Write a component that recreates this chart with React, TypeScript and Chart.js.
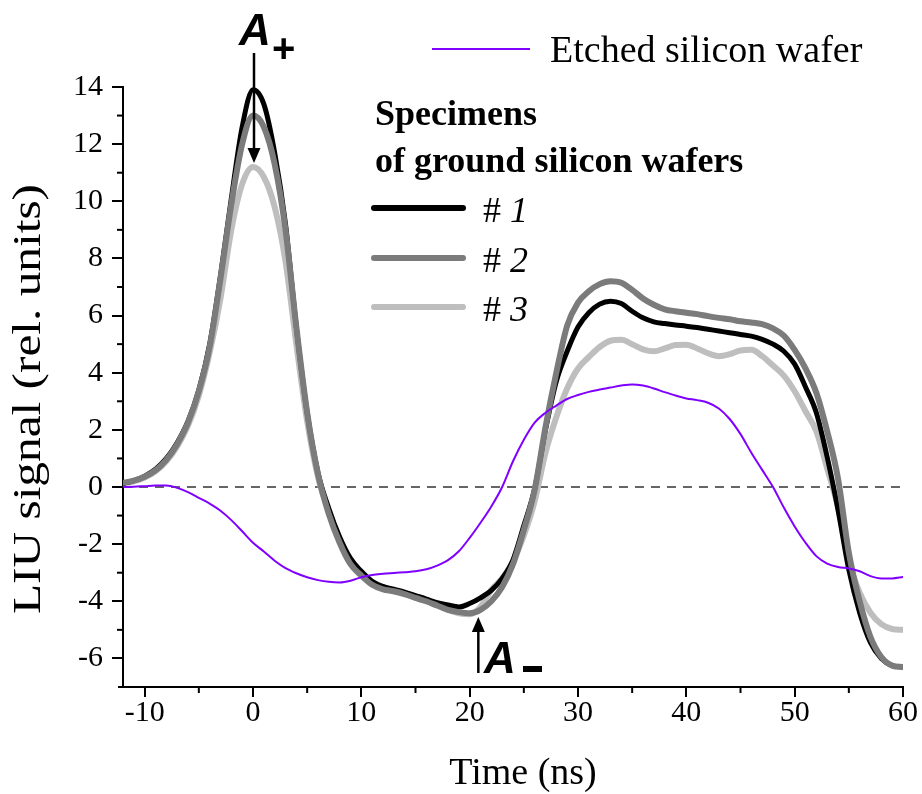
import React, { useEffect, useRef } from 'react';
import { Chart, registerables } from 'chart.js';

Chart.register(...registerables);

// ---- data (time in ns, signal in rel. units) ----
const TIME = [
  -12, -11, -10, -9, -8, -7, -6, -5, -4, -3, -2, -1, 0, 1, 2, 3, 4, 5, 6, 7, 8, 9,
  10, 11, 12, 13, 14, 15, 16, 17, 18, 19, 20, 21, 22, 23, 24, 25, 26, 27, 28, 29,
  30, 31, 32, 33, 34, 35, 36, 37, 38, 39, 40, 41, 42, 43, 44, 45, 46, 47, 48, 49,
  50, 51, 52, 53, 54, 55, 56, 57, 58, 59, 60,
];

const SPECIMEN_1 = [
  0.12, 0.22, 0.38, 0.62, 1.0, 1.55, 2.3, 3.4, 5.0, 7.4, 10.1, 12.6, 13.9, 13.4, 11.7, 9.2, 5.6, 2.6, 0.5, -0.75, -1.75, -2.5,
  -2.95, -3.3, -3.48, -3.58, -3.68, -3.8, -3.92, -4.05, -4.13, -4.2, -4.08, -3.88, -3.62, -3.2, -2.55, -1.35, -0.05, 2.0, 3.7, 4.75,
  5.6, 6.1, 6.4, 6.5, 6.42, 6.15, 5.92, 5.78, 5.72, 5.67, 5.63, 5.58, 5.52, 5.46, 5.4, 5.34, 5.28, 5.17, 5.0, 4.75,
  4.3, 3.5, 2.6, 1.05, -0.8, -2.9, -4.4, -5.45, -6.0, -6.25, -6.3,
];

const SPECIMEN_2 = [
  0.15, 0.22, 0.36, 0.58, 0.95, 1.5, 2.25, 3.35, 4.9, 7.3, 9.9, 12.0, 13.0, 12.6, 11.3, 9.0, 5.6, 2.6, 0.45, -0.95, -1.95, -2.7,
  -3.1, -3.42, -3.58, -3.65, -3.75, -3.88, -4.0, -4.15, -4.3, -4.38, -4.42, -4.3, -4.0, -3.5, -2.7, -1.5, -0.1, 2.1, 4.0, 5.65,
  6.45, 6.85, 7.1, 7.2, 7.15, 6.9, 6.6, 6.38, 6.22, 6.15, 6.1, 6.05, 5.98, 5.92, 5.87, 5.8, 5.76, 5.7, 5.55, 5.3,
  4.8, 4.15, 3.3, 1.95, 0.3, -2.3, -4.0, -5.25, -5.95, -6.25, -6.3,
];

const SPECIMEN_3 = [
  0.12, 0.2, 0.33, 0.55, 0.9, 1.42, 2.15, 3.2, 4.7, 6.6, 9.0, 10.6, 11.2, 10.85, 9.8, 7.9, 5.0, 2.3, 0.35, -0.85, -1.85, -2.6,
  -3.05, -3.38, -3.56, -3.65, -3.75, -3.88, -4.0, -4.15, -4.3, -4.42, -4.45, -4.2, -3.6, -3.2, -2.6, -1.7, -0.5, 1.2, 2.45, 3.45,
  4.15, 4.55, 4.9, 5.12, 5.15, 5.0, 4.82, 4.75, 4.85, 4.97, 4.98, 4.85, 4.68, 4.58, 4.65, 4.78, 4.8, 4.58, 4.25, 3.9,
  3.35, 2.65, 1.95, 0.65, -0.7, -2.6, -3.7, -4.4, -4.8, -4.97, -5.0,
];

const ETCHED = [
  0.0, 0.01, 0.03, 0.05, 0.05, -0.03, -0.18, -0.38, -0.58, -0.83, -1.16, -1.55, -1.95, -2.26, -2.58, -2.84, -3.02, -3.16, -3.26, -3.32, -3.34, -3.28,
  -3.16, -3.08, -3.04, -3.01, -2.98, -2.95, -2.88, -2.75, -2.56, -2.25, -1.78, -1.25, -0.68, 0.0, 0.9, 1.65, 2.25, 2.6, 2.85, 3.08,
  3.22, 3.33, 3.41, 3.48, 3.55, 3.59, 3.55, 3.45, 3.32, 3.2, 3.1, 3.04, 2.95, 2.75, 2.38, 1.85, 1.2, 0.6, 0.0, -0.72,
  -1.38, -1.95, -2.42, -2.68, -2.8, -2.85, -2.95, -3.12, -3.2, -3.2, -3.15,
];

const X_TICKS = [-10, 0, 10, 20, 30, 40, 50, 60];
const X_MINOR = [-5, 5, 15, 25, 35, 45, 55];
const Y_TICKS = [-6, -4, -2, 0, 2, 4, 6, 8, 10, 12, 14];
const Y_MINOR = [-5, -3, -1, 1, 3, 5, 7, 9, 11, 13];

const X_TITLE = 'Time (ns)';
const Y_TITLE = 'LIU signal (rel. units)';
const ETCHED_LABEL = 'Etched silicon wafer';
const GROUP_TITLE = ['Specimens', 'of ground silicon wafers'];
const SPECIMEN_LABELS = ['1', '2', '3'];
const PEAK_TIME = 0;
const TROUGH_TIME = 20.8;

const COLORS = ['#000000', '#7b7b7b', '#bebebe'];
const ETCHED_COLOR = '#8000ff';

const SERIF = '"Liberation Serif", "Times New Roman", serif';
const SANS = '"Liberation Sans", Arial, sans-serif';

const pts = (vals: number[]) => TIME.map((t, i) => ({ x: t, y: vals[i] }));

function arrow(ctx: CanvasRenderingContext2D, x: number, from: number, tip: number) {
  const dir = tip > from ? 1 : -1;
  const headLen = 15;
  ctx.beginPath();
  ctx.moveTo(x, from);
  ctx.lineTo(x, tip - dir * headLen + dir * 2);
  ctx.lineWidth = 2.5;
  ctx.strokeStyle = '#000';
  ctx.stroke();
  ctx.beginPath();
  ctx.moveTo(x, tip);
  ctx.lineTo(x - 6.5, tip - dir * headLen);
  ctx.lineTo(x + 6.5, tip - dir * headLen);
  ctx.closePath();
  ctx.fillStyle = '#000';
  ctx.fill();
}

const overlayPlugin = {
  id: 'overlay',
  beforeDatasetsDraw(chart: any) {
    const { ctx, chartArea, scales } = chart;
    const y0 = scales.y.getPixelForValue(0);
    ctx.save();
    ctx.setLineDash([9, 7]);
    ctx.strokeStyle = '#333';
    ctx.lineWidth = 1.6;
    ctx.beginPath();
    ctx.moveTo(chartArea.left, y0);
    ctx.lineTo(chartArea.right, y0);
    ctx.stroke();
    ctx.restore();
  },
  afterDraw(chart: any) {
    const { ctx, chartArea, scales } = chart;
    const xs = scales.x;
    const ys = scales.y;
    ctx.save();
    // minor ticks
    ctx.strokeStyle = '#000';
    ctx.lineWidth = 2;
    ctx.setLineDash([]);
    Y_MINOR.forEach((v) => {
      const p = ys.getPixelForValue(v);
      ctx.beginPath();
      ctx.moveTo(chartArea.left - 6, p);
      ctx.lineTo(chartArea.left, p);
      ctx.stroke();
    });
    X_MINOR.forEach((v) => {
      const p = xs.getPixelForValue(v);
      ctx.beginPath();
      ctx.moveTo(p, chartArea.bottom);
      ctx.lineTo(p, chartArea.bottom + 6);
      ctx.stroke();
    });
    // x axis overhang
    ctx.beginPath();
    ctx.moveTo(chartArea.left - 5, chartArea.bottom);
    ctx.lineTo(chartArea.left, chartArea.bottom);
    ctx.stroke();

    ctx.fillStyle = '#000';
    // y title (stretched along its length)
    ctx.save();
    ctx.translate(40, 399);
    ctx.rotate(-Math.PI / 2);
    ctx.font = `39px ${SERIF}`;
    const w = ctx.measureText(Y_TITLE).width;
    ctx.scale(430 / w, 1);
    ctx.textAlign = 'center';
    ctx.textBaseline = 'alphabetic';
    ctx.fillText(Y_TITLE, 0, 0);
    ctx.restore();

    // x title
    ctx.font = `38px ${SERIF}`;
    ctx.textAlign = 'center';
    ctx.textBaseline = 'alphabetic';
    ctx.fillText(X_TITLE, 523, 784);

    // legend: etched
    ctx.textAlign = 'left';
    ctx.strokeStyle = ETCHED_COLOR;
    ctx.lineWidth = 2;
    ctx.beginPath();
    ctx.moveTo(432, 49);
    ctx.lineTo(530, 49);
    ctx.stroke();
    ctx.font = `38px ${SERIF}`;
    ctx.fillText(ETCHED_LABEL, 550, 62);

    // legend: specimens
    ctx.font = `bold 36px ${SERIF}`;
    ctx.fillText(GROUP_TITLE[0], 375, 125);
    ctx.fillText(GROUP_TITLE[1], 375, 172);
    const rows = [208, 258, 307];
    SPECIMEN_LABELS.forEach((lab, i) => {
      ctx.strokeStyle = COLORS[i];
      ctx.lineWidth = 6;
      ctx.lineCap = 'round';
      ctx.beginPath();
      ctx.moveTo(374, rows[i]);
      ctx.lineTo(463, rows[i]);
      ctx.stroke();
      ctx.font = `36px ${SERIF}`;
      ctx.fillText('#', 483, rows[i] + 14);
      ctx.font = `italic 36px ${SERIF}`;
      ctx.fillText(lab, 510, rows[i] + 14);
    });
    ctx.lineCap = 'butt';

    // A+ annotation
    const xp = xs.getPixelForValue(PEAK_TIME) + 1;
    ctx.font = `bold italic 44px ${SANS}`;
    ctx.fillText('A', 239, 45);
    ctx.font = `bold 40px ${SANS}`;
    ctx.fillText('+', 272, 62);
    arrow(ctx, xp, 53, 163);

    // A- annotation
    const xm = xs.getPixelForValue(TROUGH_TIME);
    arrow(ctx, xm, 673, 617);
    ctx.fillStyle = '#000';
    ctx.font = `bold italic 44px ${SANS}`;
    ctx.fillText('A', 484, 673);
    ctx.fillRect(523, 666, 19, 6);
    ctx.restore();
  },
};

export default function App() {
  const ref = useRef<HTMLCanvasElement>(null);
  useEffect(() => {
    if (!ref.current) return;
    const common = {
      pointRadius: 0,
      fill: false,
      cubicInterpolationMode: 'monotone' as const,
      borderCapStyle: 'round' as const,
      borderJoinStyle: 'round' as const,
    };
    const chart = new Chart(ref.current, {
      type: 'line',
      data: {
        datasets: [
          { label: ETCHED_LABEL, data: pts(ETCHED), borderColor: ETCHED_COLOR, borderWidth: 2, order: 0, ...common },
          { label: '# 2', data: pts(SPECIMEN_2), borderColor: COLORS[1], borderWidth: 6, order: 1, ...common },
          { label: '# 1', data: pts(SPECIMEN_1), borderColor: COLORS[0], borderWidth: 5, order: 2, ...common },
          { label: '# 3', data: pts(SPECIMEN_3), borderColor: COLORS[2], borderWidth: 6, order: 3, ...common },
        ],
      },
      options: {
        responsive: false,
        animation: false,
        events: [],
        layout: { padding: { top: 87, right: 19, left: 0, bottom: 0 } },
        plugins: { legend: { display: false }, tooltip: { enabled: false }, title: { display: false } },
        scales: {
          x: {
            type: 'linear',
            min: -12,
            max: 60,
            afterBuildTicks: (s: any) => {
              s.ticks = X_TICKS.map((v) => ({ value: v }));
            },
            afterFit: (s: any) => {
              s.height = 107;
            },
            ticks: {
              font: { family: SERIF, size: 30 },
              color: '#000',
              padding: -2,
              maxRotation: 0,
              autoSkip: false,
              callback: (v: any) => String(v),
            },
            grid: { drawOnChartArea: false, drawTicks: true, tickLength: 10, color: '#000', lineWidth: 2 },
            border: { display: true, color: '#000', width: 2 },
          },
          y: {
            type: 'linear',
            min: -7,
            max: 14,
            afterBuildTicks: (s: any) => {
              s.ticks = Y_TICKS.map((v) => ({ value: v }));
            },
            afterFit: (s: any) => {
              s.width = 123;
            },
            ticks: {
              font: { family: SERIF, size: 30 },
              color: '#000',
              padding: 9,
              autoSkip: false,
              callback: (v: any) => String(v),
            },
            grid: { drawOnChartArea: false, drawTicks: true, tickLength: 11, color: '#000', lineWidth: 2 },
            border: { display: true, color: '#000', width: 2 },
          },
        },
      },
      plugins: [overlayPlugin],
    } as any);
    return () => chart.destroy();
  }, []);
  return (
    <div style={{ position: 'fixed', left: 0, top: 0, width: 922, height: 794, background: '#fff' }}>
      <canvas ref={ref} width={922} height={794} style={{ display: 'block' }} />
    </div>
  );
}
